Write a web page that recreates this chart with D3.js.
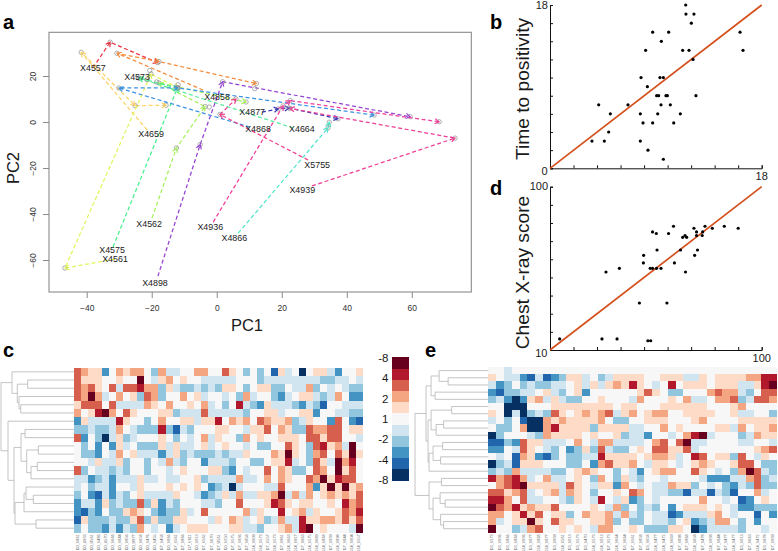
<!DOCTYPE html>
<html><head><meta charset="utf-8">
<style>html,body{margin:0;padding:0;background:#fff}svg{display:block}text{font-family:"Liberation Sans",Arial,sans-serif}</style>
<script src="https://cdn.jsdelivr.net/npm/d3@7"></script></head><body>
<script>
// ---- panel a: PCA trajectories (PC1, PC2 per subject) ----
const pcaNames = ["X4557","X4858","X4659","X4561","X4562","X4575","X4664","X4866","X4868","X4877","X4898","X4936","X5755","X4939"];
const pcaColors = ["#ee2f3f","#f58a3a","#fdd368","#e4f55c","#a6f25a","#46f08c","#5aeea0","#52e6cc","#3c92e4","#3a3ab8","#9442d4","#f03c9c","#f0408c","#ee3e96"];
const pcaPaths = [
 [[-38.1,23.5],[-32.8,34.7],[-18.2,25.8]],
 [[-4.2,13.9],[-30.7,29.9],[-17.8,26.3],[12.2,16.7]],
 [[-21.4,-3.5],[-41.7,30.3],[-25.1,7.1],[-15.6,7.3]],
 [[-31.3,-59.6],[-46.7,-63.5],[-20.2,20.9],[-11.9,14.8]],
 [[-19.9,-41.7],[-12.4,-11.3],[-3.6,6.7],[-17.8,17],[9,8.7]],
 [[-31.9,-54.3],[-12.1,14.8],[-23.9,19.1]],
 [[23.5,-2.6],[-23.9,19.1]],
 [[6.6,-48.3],[34.2,-2.6],[34.6,-0.1]],
 [[10.2,-2.2],[-30.1,14.8],[-11.9,14.8],[48.4,3]],
 [[13.9,4.3],[18.9,5.7],[22.2,6.1],[37.3,1.4]],
 [[-18.1,-67],[-5.1,-9.8],[1.8,17.5],[59.5,2.3]],
 [[-1.1,-43.5],[20.4,7],[22.6,9.3],[68.4,0.1]],
 [[28.1,-16.5],[1,3.3],[5.9,10]],
 [[29.3,-27.8],[73.3,-7],[22.6,5.9]]
];
const pcaExtraPoints = [[-20.6,22.4],[-11.9,16.2],[11.7,14.5],[-2.3,6.5],[-21.5,18.4],[-18.5,17.4]];
const pcaLabels = ["X4557","X4573","X4858","X4659","X4877","X4868","X4664","X5755","X4939","X4562","X4936","X4866","X4575","X4561","X4898"];
const pcaLabelPos = [[-38.1,23.4],[-24.5,19.6],[0.1,11.0],[-20.2,-5.2],[10.9,4.2],[12.7,-3.0],[26.2,-3.0],[30.9,-18.7],[26.3,-29.6],[-20.8,-44.3],[-2.0,-45.6],[5.4,-50.4],[-32.2,-55.6],[-31.3,-59.7],[-19.0,-70.0]];
const pc1Ticks = [-40,-20,0,20,40,60];
const pc2Ticks = [20,0,-20,-40,-60];

// ---- panels b, d: scatter ----
const bX = [3.57,4.62,4.99,4.14,5.13,6.63,7.68,7.91,8.73,9.16,9.44,10.23,10.52,11.08,12.41,7.68,8.33,9.64,7.74,8.28,9.35,9.64,9.07,9.24,9.86,9.98,8.13,9.47,8.73,10.09,11.28,11.82,12.16,12.02,11.54,11.56,12.24,16.16,16.41];
const bY = [3,3,4,7,6,7,6,5,5,6,7,7,5,6,8,3,2,1,10,9,10,10,8,8,8,8,13,14,15,15,13,13,12,16,18,17,17,15,13];
const dX = [14.1,32.1,38.5,51.6,52.8,33.8,39.5,48.0,59.7,49.7,49.8,52.6,53.6,55.3,57.2,53.6,55.2,55.5,60.4,62.5,62.9,65.5,66.4,67.4,68.1,67.6,71.5,71.2,72.3,72.3,72.7,74.7,74.9,75.9,79.0,84.1,90.0];
const dY = [16.1,16.1,16.1,15.1,15.1,53.0,55.0,35.9,35.9,58.0,62.2,55.0,55.0,55.0,55.0,75.1,74.2,65.1,74.2,78.2,58.0,65.1,72.1,73.1,72.1,53.0,62.2,77.1,75.1,73.1,65.1,73.1,75.1,78.2,77.1,78.2,77.1];
const bTicks = [0,2,4,6,8,10,12,14,16,18];
const dTicks = [10,20,30,40,50,60,70,80,90,100];

// ---- heat maps: colour level per cell, 0 (darkest blue) .. A (darkest red) ----
const palette = ["#053061","#2166ac","#4393c3","#92c5de","#d1e5f0","#f7f7f7","#fddbc7","#f4a582","#d6604d","#b2182b","#67001f"];
const colorbarLabels = ["-8","4","2","1","-2","-4","-8 "];
const heatC = [
"87662576775374455775586535351645056642556",
"866655655A5467565544444555344444444334454",
"87865848897736433434366535663354473545433",
"87A74575638735575645545374553245664347522",
"68885844447657556574535943264443243155444",
"7569A758655566344484444435566455662554433",
"26444496553575566466957675876673465528521",
"33433475433393143555665546685763387788566",
"82530463455565354574655375655666588688554",
"535252645333646445645655453355865389674A5",
"533254756444246343334344655576A65378586A6",
"5546446355354743552444355335669453864A795",
"8354434355355456555663254558576335875A685",
"44234244464454455634444744575765587A69885",
"453442554655565656523404555448555726A6A67",
"35214243564444655423464744667A47475676768",
"24426343383624355544355855569865665565978",
"21325336765323364585555574655956746556879",
"16333433683633665554657645634744966776868",
"353324243754524566655566443556749A565554A"
];
const heatE = [
"5545555555555555555555555555555555555",
"6544214123664534666655666446566667799",
"423534334456464676965459566656664469A",
"2133445643562555555686533555787743588",
"3420267464335565554755565744577834887",
"5500055566666666566555666666555675555",
"6504034386567678467567755666655644553",
"4535100767666675335566655567555566666",
"5335700796666366664455756555566475667",
"035554376666565563442554579A455534766",
"1132866444575477444457858A44555544554",
"2254865435236384335658866845555555678",
"5451762135334496666567764598566385465",
"0341666555335278667546654567655688533",
"343744443356765535425677558654537A843",
"9789745744565375364355455554222447834",
"5789A66664865466275454476635453243833",
"8867845674765355658754433144143155745",
"9975844554365495462354555557554512565",
"A879676685555654735343525666565422333",
"7756968566357667474354412444675455152",
"74566A6586655667353354435623477535255",
"A553478556565477556533366502444435545"
];
const colsC = ["D0_V861","D0_X933","D0_U561","D0_V486","D0_X570","D0_V668","D0_V844","D0_V856","D0_U977","D0_V658","D0_V476","D0_V455","D7_V458","D0_V866","D7_V561","D7_V866","D7_V611","D0_V013","D7_V562","D7_V670","D7_U561","D0_V250","D7_V575","D7_V936","D7_V858","D14_V009","D14_V573","D7_V557","D14_V573","D7_V961","D14_V663","D14_V917","D7_V663","D14_V575","D14_V689","D14_V868","D7_V939","D14_V898","D7_V844","D14_V904","D14_V557"];
const colsE = ["D3_V573","D3_V936","D3_V866","D3_V868","D14_V936","D3_V877","D14_V868","D14_V877","D3_V939","D14_V561","D3_V013","D3_V573","D3_V470","D14_V573","D14_V013","D7_V573","D14_V664","D3_V664","D7_V561","D7_V858","D3_V658","D14_V477","D14_V472","D14_V669","D7_V898","D7_V868","D14_V658","D7_V478","D14_V938","D7_V844","D7_V477","D14_V477","D3_V013","D7_V663","D14_V472","D3_V878","D7_V939"];
// dendrograms: [merge height, first branch, second branch]; a number is a row
const treeC = [73,
  [62,0,[56.7,[46.3,1,2],[55,3,[53.3,4,5]]]],
  [66,6,[60,[53,[49,7,8],[47.3,[35.7,9,10],[43,[36.7,11,12],13]]],
             [59,[50,[48,14,[40.7,15,16]],17],[38,18,19]]]]];
const treeE = [73,
  [62,[57,[49,0,[40,1,2]],[53,3,4]],
      [60,[57,[36.5,5,6],[52,[44.5,7,8],9]],[59,[55,[45.5,10,11],[47.5,12,13]],14]]],
  [59,[46.7,15,16],[55,[48,17,[43,18,19]],[47.5,20,[44.5,21,22]]]]];

// ---- layout ----
const svg = d3.select("body").append("svg").attr("width",778).attr("height",551);
const INK="#1a1a1a";
function letter(t,x,y){svg.append("text").attr("x",x).attr("y",y).attr("font-size",20).attr("font-weight","bold").attr("fill","#000").text(t);}
letter("a",3,29);letter("b",490,29);letter("d",490,195);letter("c",3,357);letter("e",425,357);

// ---- panel a ----
const pa={l:49,r:471.3,t:32.3,b:292};
const xA=d3.scaleLinear().domain([-51.6,78.3]).range([pa.l,pa.r]);
const yA=d3.scaleLinear().domain([-73.9,39]).range([pa.b,pa.t]);
const gA=svg.append("g");
gA.append("rect").attr("x",pa.l).attr("y",pa.t).attr("width",pa.r-pa.l).attr("height",pa.b-pa.t).attr("fill","none").attr("stroke","#8a8a8a").attr("stroke-width",1.1);
const axX=gA.append("g").attr("transform",`translate(0,${pa.b})`).call(d3.axisBottom(xA).tickValues(pc1Ticks).tickSize(6).tickPadding(7).tickFormat(d3.format("d")));
const axY=gA.append("g").attr("transform",`translate(${pa.l},0)`).call(d3.axisLeft(yA).tickValues(pc2Ticks).tickSize(6).tickPadding(4).tickFormat(d3.format("d")));
[axX,axY].forEach(a=>{a.select(".domain").remove();a.selectAll("line").attr("stroke","#8a8a8a");a.selectAll("text").attr("font-size",8.5).attr("fill","#333").attr("font-family",'"Liberation Sans"');});
axY.selectAll("text").attr("transform","rotate(-90)").attr("x",0).attr("y",-13).attr("dy",0).attr("text-anchor","middle");
gA.append("text").attr("x",247).attr("y",331).attr("font-size",16.5).attr("text-anchor","middle").attr("fill",INK).text("PC1");
gA.append("text").attr("transform","translate(19,168) rotate(-90)").attr("font-size",16.5).attr("text-anchor","middle").attr("fill",INK).text("PC2");
const line=d3.line().x(d=>xA(d[0])).y(d=>yA(d[1]));
pcaPaths.forEach((pts,i)=>{
  const g=gA.append("g").attr("data-name",pcaNames[i]);
  g.append("path").attr("d",line(pts)).attr("fill","none").attr("stroke",pcaColors[i]).attr("stroke-width",1.25).attr("stroke-dasharray","4,2.6");
  g.selectAll("circle").data(pts.slice(1)).join("circle").attr("cx",d=>xA(d[0])).attr("cy",d=>yA(d[1])).attr("r",2.2).attr("fill","none").attr("stroke","#8d8d8d").attr("stroke-width",.7);
  for(let k=1;k<pts.length;k++){
    const x1=xA(pts[k][0]),y1=yA(pts[k][1]),x0=xA(pts[k-1][0]),y0=yA(pts[k-1][1]);
    const ang=Math.atan2(y1-y0,x1-x0),s=5,sp=0.55;
    g.append("path").attr("d",`M${x1-s*Math.cos(ang-sp)},${y1-s*Math.sin(ang-sp)}L${x1},${y1}L${x1-s*Math.cos(ang+sp)},${y1-s*Math.sin(ang+sp)}`)
      .attr("fill","none").attr("stroke",pcaColors[i]).attr("stroke-width",1.2);
  }
});
gA.append("g").selectAll("circle").data(pcaExtraPoints).join("circle").attr("cx",d=>xA(d[0])).attr("cy",d=>yA(d[1])).attr("r",2.2).attr("fill","none").attr("stroke","#8d8d8d").attr("stroke-width",.7);
gA.append("g").selectAll("text").data(pcaLabels).join("text").attr("x",(d,i)=>xA(pcaLabelPos[i][0])).attr("y",(d,i)=>yA(pcaLabelPos[i][1])).attr("dy","0.35em").attr("text-anchor","middle").attr("font-size",8.9).attr("fill","#222").text(d=>d);

// ---- panels b and d ----
function scatter(top,bottom,domain,ticks,xs,ys,ylabel,lo,hi,yc){
  const L=550,R=761.7;
  const x=d3.scaleLinear().domain(domain).range([L,R]);
  const y=d3.scaleLinear().domain(domain).range([bottom,top]);
  const g=svg.append("g");
  const ax=g.append("g").attr("transform",`translate(0,${bottom})`).call(d3.axisBottom(x).tickValues(ticks).tickSize(-3).tickFormat(""));
  const ay=g.append("g").attr("transform",`translate(${L},0)`).call(d3.axisLeft(y).tickValues(ticks).tickSize(-3).tickFormat(""));
  [ax,ay].forEach(a=>{a.selectAll("line,path").attr("stroke","#111").attr("stroke-width",1);});
  g.append("line").attr("x1",x(domain[0])).attr("y1",y(domain[0])).attr("x2",x(domain[1])).attr("y2",y(domain[1])).attr("stroke","#d4501c").attr("stroke-width",1.7);
  g.selectAll("circle").data(xs).join("circle").attr("cx",d=>x(d)).attr("cy",(d,i)=>y(ys[i])).attr("r",1.6).attr("fill","#000");
  g.append("text").attr("x",548).attr("y",top+3.5).attr("text-anchor","end").attr("font-size",11).attr("fill",INK).text(hi);
  g.append("text").attr("x",547.5).attr("y",bottom+7).attr("text-anchor","end").attr("font-size",11).attr("fill",INK).text(lo);
  g.append("text").attr("x",R).attr("y",bottom+11.5).attr("text-anchor","middle").attr("font-size",11).attr("fill",INK).text(hi);
  g.append("text").attr("transform",`translate(528.5,${yc}) rotate(-90)`).attr("text-anchor","middle").attr("font-size",19.2).attr("fill",INK).text(ylabel);
}
scatter(5,168.3,[0,18],bTicks,bX,bY,"Time to positivity","0","18",89);
scatter(186.7,350,[10,100],dTicks,dX,dY,"Chest X-ray score","10","100",272.5);

// ---- heat maps ----
function heat(rows,cols,tree,L,R,T,B,rootX){
  const nr=rows.length,nc=rows[0].length;
  const x=d3.scaleBand().domain(d3.range(nc)).range([L,R]);
  const y=d3.scaleBand().domain(d3.range(nr)).range([T,B]);
  const g=svg.append("g");
  const cells=[];rows.forEach((r,i)=>[...r].forEach((c,j)=>cells.push({i,j,v:parseInt(c,16)})));
  g.append("g").attr("shape-rendering","crispEdges").selectAll("rect").data(cells).join("rect")
    .attr("x",d=>x(d.j)).attr("y",d=>y(d.i)).attr("width",x.bandwidth()+.3).attr("height",y.bandwidth()+.3).attr("fill",d=>palette[d.v]);
  g.append("g").selectAll("text").data(cols).join("text").attr("transform",(d,i)=>`translate(${x(i)+x.bandwidth()/2+1.2},${B+2}) rotate(-90)`)
    .attr("text-anchor","end").attr("font-size",3.8).attr("fill","#666").text(d=>d);
  const h=d3.scaleLinear().domain([0,73]).range([L,rootX]);
  const segs=[];
  (function walk(n){
    if(typeof n==="number")return {y:y(n)+y.bandwidth()/2,x:L};
    const a=walk(n[1]),b=walk(n[2]),X=h(n[0]);
    segs.push(`M${a.x},${a.y}H${X}V${b.y}H${b.x}`);
    return {y:(a.y+b.y)/2,x:X};
  })(tree);
  g.append("path").attr("d",segs.join("")).attr("fill","none").attr("stroke","#b5b5b5").attr("stroke-width",.8);
}
heat(heatC,colsC,treeC,74,362.7,367.7,532.3,1);
heat(heatE,colsE,treeE,488.3,777,367,532.3,415);

// ---- colour bar ----
const cbY=d3.scaleBand().domain(d3.range(palette.length)).range([357.3,480.7]);
svg.append("g").attr("shape-rendering","crispEdges").selectAll("rect").data(palette.slice().reverse()).join("rect")
  .attr("x",391.7).attr("y",(d,i)=>cbY(i)).attr("width",17.3).attr("height",cbY.bandwidth()+.3).attr("fill",d=>d);
const cbL=d3.scalePoint().domain(colorbarLabels).range([358,480]);
svg.append("g").selectAll("text").data(colorbarLabels).join("text").attr("x",388.5).attr("y",d=>cbL(d)).attr("dy","0.35em").attr("text-anchor","end").attr("font-size",11.5).attr("fill",INK).text(d=>d.trim());
</script></body></html>
